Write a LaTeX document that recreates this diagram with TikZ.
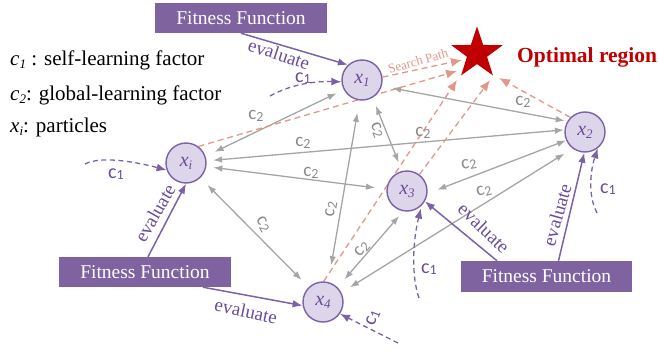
\documentclass[tikz,border=0pt]{standalone}
\usepackage{fontspec}
\setmainfont{Liberation Serif}
\newfontfamily\calfont{Carlito}
\usetikzlibrary{shapes.geometric,arrows.meta,calc}
\definecolor{pbox}{HTML}{7F63A1}
\definecolor{pfill}{HTML}{DDD5E9}
\definecolor{pline}{HTML}{7B62A6}
\definecolor{ptext}{HTML}{6A4C9C}
\definecolor{gline}{HTML}{A5A5A5}
\definecolor{gtext}{HTML}{8A8A8A}
\definecolor{salm}{HTML}{E2978B}
\definecolor{starred}{HTML}{C00000}
\pgfdeclarelayer{bg}
\pgfsetlayers{bg,main}
\newcommand\cOneTxt{c\raisebox{-1.5pt}{\fontsize{14}{14}\selectfont 1}}
\newcommand\cTwoTxt{c\raisebox{-1.5pt}{\fontsize{14}{14}\selectfont 2}}
\newcommand\subTxt[1]{\raisebox{-3pt}{\fontsize{13}{13}\selectfont #1}}
\tikzset{
 particle/.style={circle, draw=pline, fill=pfill, line width=1.4pt, minimum size=40pt, inner sep=0pt, text=ptext, font=\fontsize{20}{20}\selectfont\itshape},
 fitbox/.style={fill=pbox, text=white, minimum width=172pt, minimum height=30pt, inner sep=0pt, font=\fontsize{19.5}{20}\selectfont},
 garrow/.style={draw=gline, line width=1.3pt, {Latex[length=9pt,width=6.5pt]}-{Latex[length=9pt,width=6.5pt]}},
 evarrow/.style={draw=pline, line width=1.5pt, -{Latex[length=10pt,width=7.5pt]}},
 coarrow/.style={draw=pline, line width=1.3pt, dash pattern=on 5pt off 3.5pt, -{Latex[length=10pt,width=8pt]}},
 sparrow/.style={draw=salm, line width=1.3pt, dash pattern=on 6pt off 4pt, -{Latex[length=11pt,width=9pt]}},
 glabel/.style={text=gtext, font=\calfont\fontsize{19}{19}\selectfont, inner sep=0pt},
 clabel/.style={text=ptext, font=\calfont\fontsize{20}{20}\selectfont, inner sep=0pt},
 evlabel/.style={text=ptext, font=\fontsize{19}{19}\selectfont, inner sep=0pt},
 legend/.style={anchor=base west, inner sep=0pt, font=\fontsize{21}{21}\selectfont},
}
\begin{document}
\begin{tikzpicture}[x=1pt,y=-1pt]
\useasboundingbox (0,0) rectangle (659,351);
% particles
\node[particle] (xa) at (362,80) {x\subTxt{1}};
\node[particle] (xb) at (585,132) {x\subTxt{2}};
\node[particle] (xi) at (186,163) {x\subTxt{i}};
\node[particle] (xc) at (407,191) {x\subTxt{3}};
\node[particle] (xd) at (323,302) {x\subTxt{4}};
% star and label
\node[star, star points=5, star point ratio=2.55, minimum size=54pt, inner sep=0pt, fill=starred] (star) at (477,53.5) {};
\node[anchor=base west, inner sep=0pt, text=starred, font=\fontsize{21.5}{21.5}\selectfont\bfseries] (opt) at (517,62) {Optimal region};
% fitness boxes
\node[fitbox] (fa) at (241,18) {Fitness Function};
\node[fitbox] (fb) at (145,272) {Fitness Function};
\node[fitbox, minimum width=171pt, minimum height=31pt] (fc) at (546.5,276.5) {Fitness Function};
% legend
\node[legend] (lg1) at (10,65) {\textit{c}\subTxt{\textit{1}} : self-learning factor};
\node[legend] (lg2) at (10,100) {\textit{c}\subTxt{\textit{2}}: global-learning factor};
\node[legend] (lg3) at (10,132) {\textit{x}\subTxt{\textit{i}}: particles};
% coordinates
\coordinate (sa) at (270,96);
\coordinate (si) at (85,164);
\coordinate (sb) at (597,213);
\coordinate (sc) at (419,298);
\coordinate (sd) at (398,343);
\coordinate (ta) at (462,60);
\coordinate (ti) at (457,71);
\coordinate (td) at (457,80);
\coordinate (tc) at (490,80);
\coordinate (tb) at (499,78);
\begin{pgfonlayer}{bg}
% grey c2 connectors
\draw[garrow, shorten <=10pt, shorten >=8pt] (xi.19) -- (xa.208);
\draw[garrow, shorten <=6.5pt, shorten >=0.5pt] (xi.6) -- (xb.174);
\draw[garrow, shorten <=7pt, shorten >=11.5pt] (xi.-10) -- (xc.175);
\draw[garrow, shorten <=10pt, shorten >=10pt] (xi.-46) -- (xd.134);
\draw[garrow, shorten <=10.5pt, shorten >=2.5pt] (xa.-17) -- (xb.149);
\draw[garrow, shorten <=17pt, shorten >=12.5pt] (xd.75) -- (xa.-97);
\draw[garrow, shorten <=8.5pt, shorten >=9pt] (xa.-59) -- (xc.104);
\draw[garrow, shorten <=10.5pt, shorten >=0pt] (xc.-7) -- (xb.204);
\draw[garrow, shorten <=10pt, shorten >=9.5pt] (xd.27) -- (xb.233);
\draw[garrow, shorten <=6pt, shorten >=10.5pt] (xc.259) -- (xd.45);
% search paths
\draw[sparrow] (xa.8) -- (ta);
\draw[sparrow] (xi.53) -- (ti);
\draw[sparrow] (xd.88) -- (td);
\draw[sparrow] (xc.53) -- (tc);
\draw[sparrow] (xb.135) -- (tb);
% evaluate
\draw[evarrow] (fa.south) -- (xa.133);
\draw[evarrow] ($(fb.north)+(3,0)$) -- (xi.south);
\draw[evarrow] ($(fb.south)+(58,0)$) -- (xd.190);
\draw[evarrow] ($(fc.north)+(-49.5,0)$) -- (xc.-30);
\draw[evarrow] ($(fc.north)+(12,0)$) -- (xb.-92);
% c1
\draw[coarrow] (sa) .. controls (288,86) and (310,81) .. (xa.185);
\draw[coarrow] (si) .. controls (102,155) and (140,163) .. (xi.200);
\draw[coarrow] (sb) .. controls (588,196) and (590,172) .. (xb.-52);
\draw[coarrow, shorten >=3pt] (sc) .. controls (411,275) and (413,240) .. (xc.-45);
\draw[coarrow] (sd) -- (xd.-35);
\end{pgfonlayer}
% labels
\node[text=salm, font=\fontsize{13}{13}\selectfont, rotate=16, inner sep=0pt] (sp) at (418,61) {Search Path};
\node[evlabel, rotate=-18] (e1) at (279,54) {evaluate};
\node[evlabel, rotate=60] (e2) at (155,213) {evaluate};
\node[evlabel, rotate=-12] (e3) at (246,311) {evaluate};
\node[evlabel, rotate=-44] (e4) at (484,228) {evaluate};
\node[evlabel, rotate=74] (e5) at (557,215) {evaluate};
\node[clabel, anchor=base] (ca) at (303,82) {\cOneTxt};
\node[clabel, anchor=base] (ci) at (116,178) {\cOneTxt};
\node[clabel, anchor=west] (cb) at (600,189) {\cOneTxt};
\node[clabel, anchor=west] (cc) at (421,269) {\cOneTxt};
\node[clabel, rotate=70] (cd) at (373,318) {\cOneTxt};
\node[glabel] (l1) at (256,116) {\cTwoTxt};
\node[glabel] (l2) at (303,143) {\cTwoTxt};
\node[glabel] (l3) at (423,133) {\cTwoTxt};
\node[glabel] (l4) at (311,173) {\cTwoTxt};
\node[glabel, rotate=-68] (l5) at (377,130) {\cTwoTxt};
\node[glabel] (l6) at (523,102) {\cTwoTxt};
\node[glabel, rotate=10] (l7) at (469,164) {\cTwoTxt};
\node[glabel, rotate=15] (l8) at (484,191) {\cTwoTxt};
\node[glabel, rotate=-60] (l9) at (263,224) {\cTwoTxt};
\node[glabel, rotate=81] (l10) at (331,209) {\cTwoTxt};
\node[glabel, rotate=49] (l11) at (362,249) {\cTwoTxt};
\end{tikzpicture}
\end{document}
